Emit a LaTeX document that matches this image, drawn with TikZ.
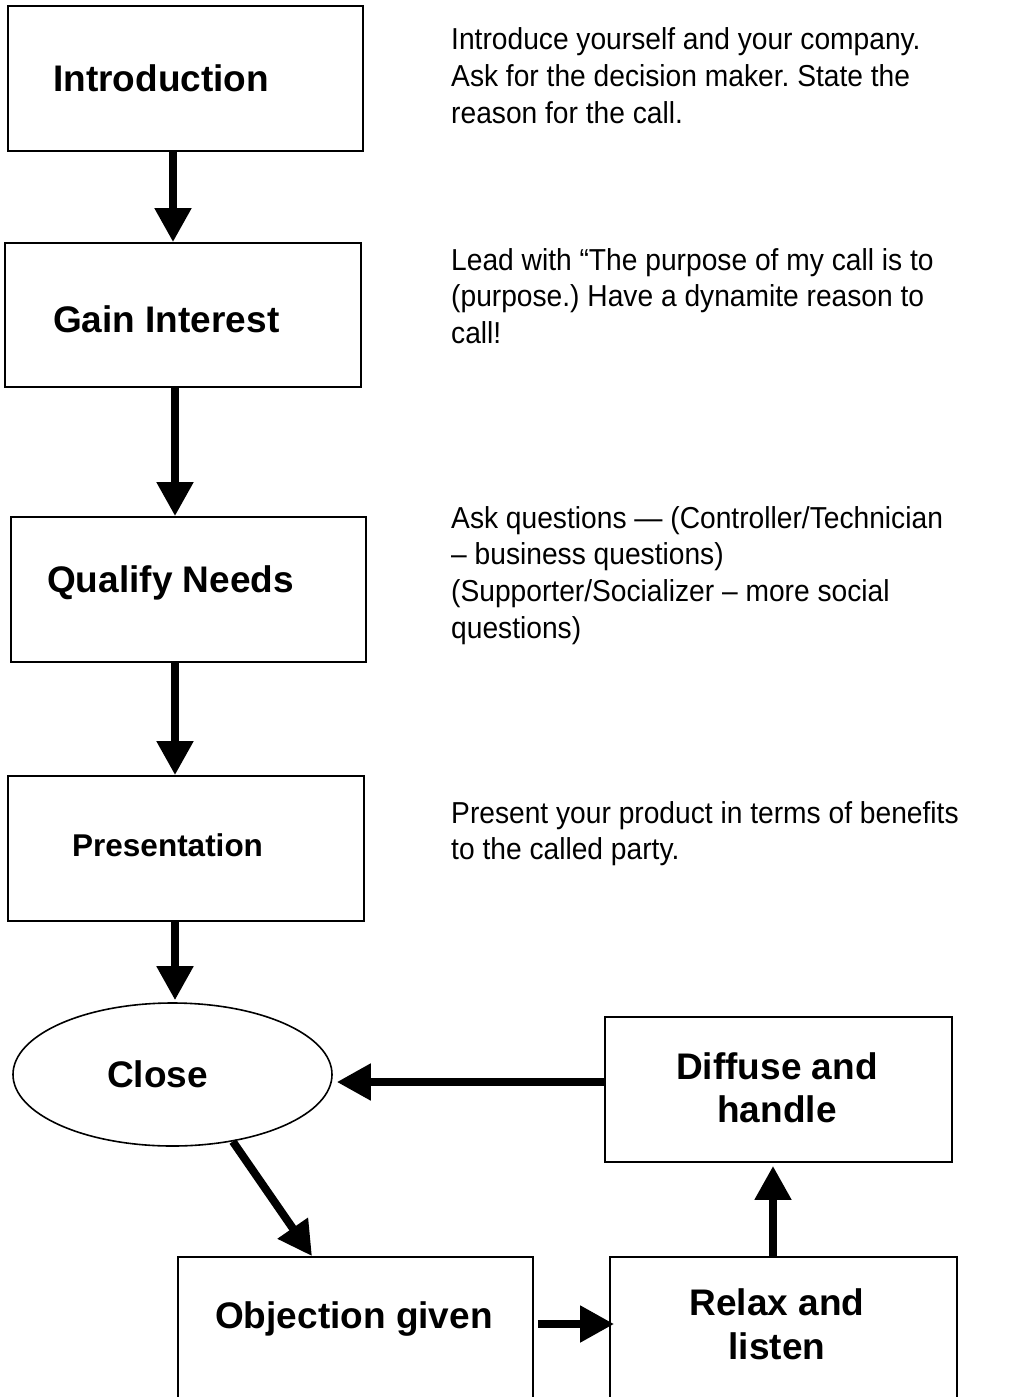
\documentclass[tikz,border=0pt]{standalone}
\usepackage{fontspec}
\setmainfont{Liberation Sans}
\newfontfamily\notefont[FakeStretch=0.93]{Liberation Sans}
\usetikzlibrary{arrows.meta,shapes.geometric}
\begin{document}
\frenchspacing
\begin{tikzpicture}[x=1pt,y=-1pt,
  boxnode/.style={draw,line width=1.8pt,rectangle,inner sep=0pt},
  ovalnode/.style={draw,line width=1.6pt,ellipse,inner sep=0pt},
  bigbold/.style={inner sep=0pt,font=\fontsize{37}{44}\selectfont\bfseries},
  medbold/.style={inner sep=0pt,font=\fontsize{31.5}{38}\selectfont\bfseries},
  notetext/.style={inner sep=0pt,anchor=base west,font=\notefont\fontsize{30.3}{36.8}\selectfont\frenchspacing},
  flowarrow/.style={line width=8pt,-{Triangle[width=35pt,length=34pt]}}]
\useasboundingbox (0,0) rectangle (1035,1397);
% boxes
\node[boxnode,minimum width=355pt,minimum height=145pt] (intro) at (185.5,78.5) {};
\node[boxnode,minimum width=356pt,minimum height=144pt] (gain) at (183,315) {};
\node[boxnode,minimum width=355pt,minimum height=145pt] (qual) at (188.5,589.5) {};
\node[boxnode,minimum width=356pt,minimum height=145pt] (pres) at (186,848.5) {};
\node[ovalnode,minimum width=319pt,minimum height=143pt] (close) at (172.5,1074.5) {};
\node[boxnode,minimum width=347pt,minimum height=145pt] (diff) at (778.5,1089.5) {};
\node[boxnode,minimum width=355pt,minimum height=147pt] (obj) at (355.5,1330.5) {};
\node[boxnode,minimum width=347pt,minimum height=147pt] (relax) at (783.5,1330.5) {};
% labels
\node[bigbold,anchor=base west] (introT) at (53,92) {Introduction};
\node[bigbold,anchor=base west] (gainT) at (53,332) {Gain Interest};
\node[bigbold,anchor=base west] (qualT) at (47,592) {Qualify Needs};
\node[medbold,anchor=base west] (presT) at (72,856) {Presentation};
\node[bigbold,anchor=base west] (closeT) at (107,1087) {Close};
\node[bigbold,anchor=base] (diffT) at (777,1079) {\def\arraystretch{0.977}\begin{tabular}[t]{@{}c@{}}Diffuse and\\handle\end{tabular}};
\node[bigbold,anchor=base] (relaxT) at (777,1315) {\def\arraystretch{1.02}\begin{tabular}[t]{@{}c@{}}Relax and\\listen\end{tabular}};
\node[bigbold,anchor=base west] (objT) at (215,1328) {Objection given};
% notes
\node[notetext] (n1) at (451,50) {\begin{tabular}[t]{@{}l@{}}Introduce yourself and your company.\\Ask for the decision maker. State the\\reason for the call.\end{tabular}};
\node[notetext] (n2) at (451,270) {\begin{tabular}[t]{@{}l@{}}Lead with “The purpose of my call is to\\(purpose.) Have a dynamite reason to\\call!\end{tabular}};
\node[notetext] (n3) at (451,528) {\begin{tabular}[t]{@{}l@{}}Ask questions — (Controller/Technician\\– business questions)\\(Supporter/Socializer – more social\\questions)\end{tabular}};
\node[notetext] (n4) at (451,823) {\begin{tabular}[t]{@{}l@{}}Present your product in terms of benefits\\to the called party.\end{tabular}};
% helper coordinates
\coordinate (xA) at (173,0);
\coordinate (xB) at (175,0);
\coordinate (xO) at (312,0);
\coordinate (xR) at (773,0);
\coordinate (yD) at (0,1082);
\coordinate (yO) at (0,1324);
% connectors
\draw[flowarrow] (xA |- intro.south) -- (xA |- gain.north);
\draw[flowarrow] (xB |- gain.south) -- (xB |- qual.north);
\draw[flowarrow] (xB |- qual.south) -- (xB |- pres.north);
\draw[flowarrow,shorten >=2pt] (xB |- pres.south) -- (xB |- close.north);
\draw[flowarrow,shorten >=4pt] (diff.west |- yD) -- (close.east |- yD);
\draw[flowarrow] (close.-48) -- (xO |- obj.north);
\draw[flowarrow,shorten <=4pt,shorten >=-5pt] (obj.east |- yO) -- (relax.west |- yO);
\draw[flowarrow,shorten >=3pt] (xR |- relax.north) -- (xR |- diff.south);
\end{tikzpicture}
\end{document}
